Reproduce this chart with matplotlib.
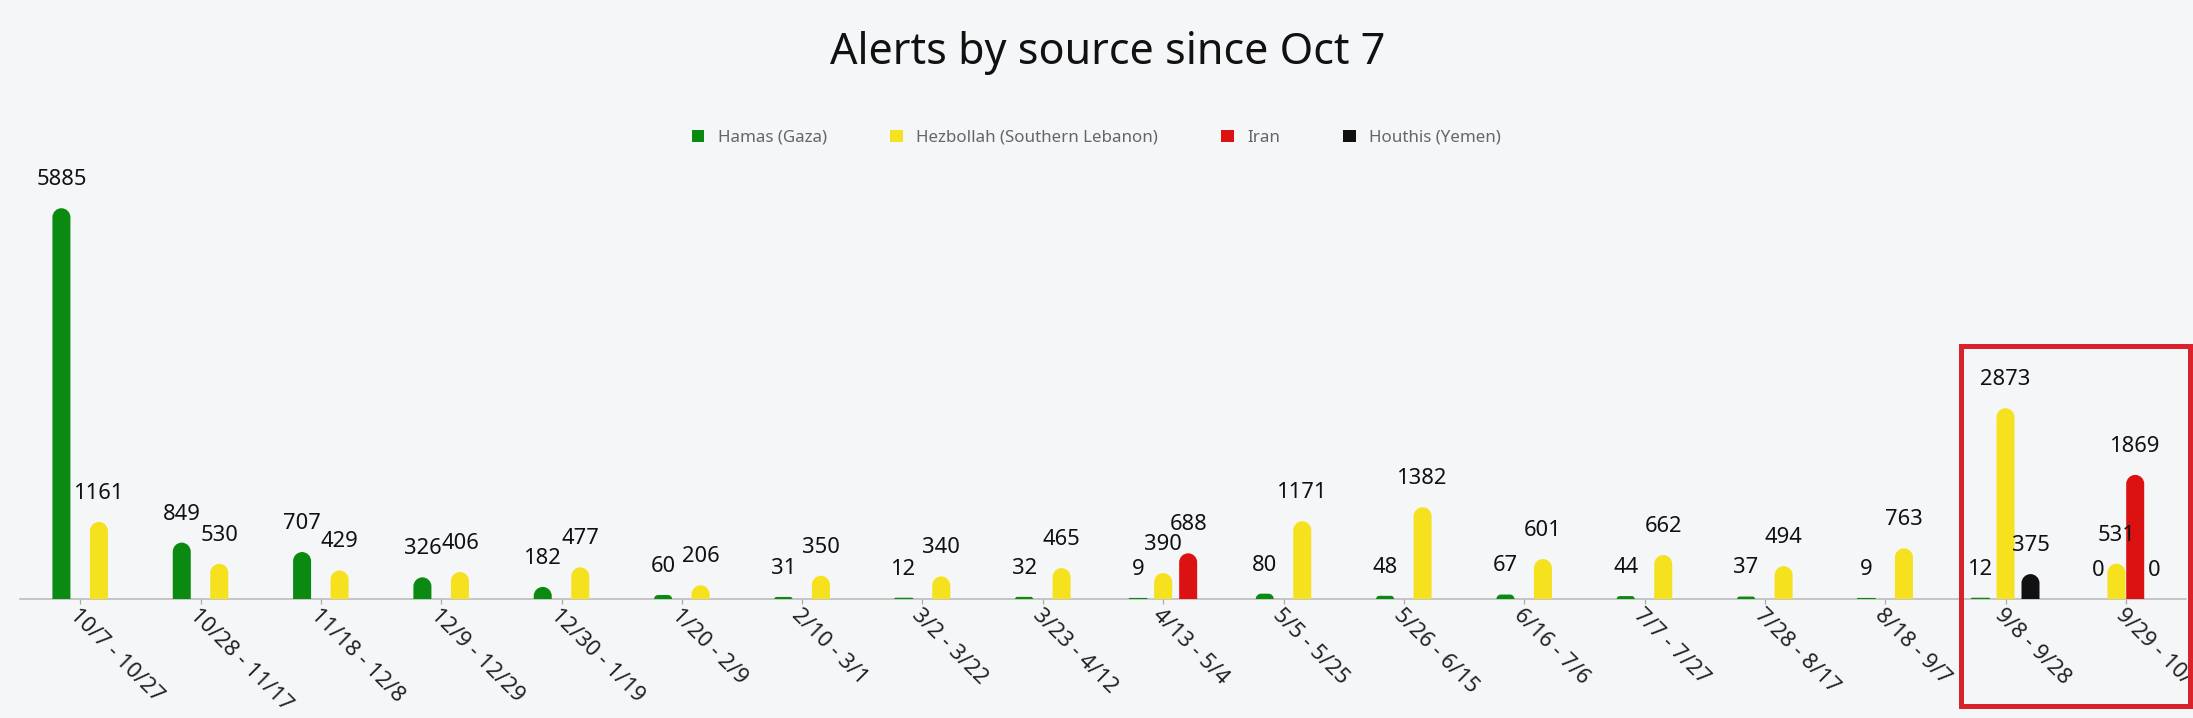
import numpy as np
import matplotlib
matplotlib.use("Agg")
import matplotlib.pyplot as plt
from matplotlib.path import Path
from matplotlib.patches import PathPatch, Patch, Rectangle

plt.rcParams['font.family'] = ['Noto Sans', 'DejaVu Sans']

# ---------------- data ----------------
categories = ["10/7 - 10/27", "10/28 - 11/17", "11/18 - 12/8", "12/9 - 12/29",
              "12/30 - 1/19", "1/20 - 2/9", "2/10 - 3/1", "3/2 - 3/22",
              "3/23 - 4/12", "4/13 - 5/4", "5/5 - 5/25", "5/26 - 6/15",
              "6/16 - 7/6", "7/7 - 7/27", "7/28 - 8/17", "8/18 - 9/7",
              "9/8 - 9/28", "9/29 - 10/19"]
hamas = [5885, 849, 707, 326, 182, 60, 31, 12, 32, 9, 80, 48, 67, 44, 37, 9, 12, 0]
hezbollah = [1161, 530, 429, 406, 477, 206, 350, 340, 465, 390, 1171, 1382, 601,
             662, 494, 763, 2873, 531]
iran = [None, None, None, None, None, None, None, None, None, 688, None, None,
        None, None, None, None, None, 1869]
houthis = [None, None, None, None, None, None, None, None, None, None, None, None,
           None, None, None, None, 375, 0]
series_names = ["Hamas (Gaza)", "Hezbollah (Southern Lebanon)", "Iran", "Houthis (Yemen)"]
title = "Alerts by source since Oct 7"

# ---------------- style ----------------
colors = ["#0b8a12", "#f6e11f", "#dc1111", "#111111"]
bg = "#f5f6f8"
W, H, DPI = 2193, 718, 100

fig = plt.figure(figsize=(W / DPI, H / DPI), dpi=DPI, facecolor=bg)
ax_left, ax_w = 20, 2166
base_y, ax_h = 599, 398.4
ax = fig.add_axes([ax_left / W, (H - base_y) / H, ax_w / W, ax_h / H])
ax.set_facecolor(bg)
ymax = 6000
ax.set_xlim(-0.5, len(categories) - 0.5)
ax.set_ylim(0, ymax)

px_x = ax_w / len(categories)
px_y = ax_h / ymax
group_w = 75 / px_x
bar_w = 18 / px_x

series = [hamas, hezbollah, iran, houthis]

k = 0.5523


def rounded_path(x0, w, h):
    r_px = min(9.0, h * px_y)
    if r_px <= 0:
        return None
    rx = r_px / px_x
    ry = r_px / px_y
    x1 = x0 + w
    verts = [(x0, 0), (x0, h - ry), (x0, h - ry + k * ry), (x0 + rx - k * rx, h),
             (x0 + rx, h), (x1 - rx, h), (x1 - rx + k * rx, h), (x1, h - ry + k * ry),
             (x1, h - ry), (x1, 0), (x0, 0)]
    codes = [Path.MOVETO, Path.LINETO, Path.CURVE4, Path.CURVE4, Path.CURVE4,
             Path.LINETO, Path.CURVE4, Path.CURVE4, Path.CURVE4, Path.LINETO,
             Path.CLOSEPOLY]
    return Path(verts, codes)


for s_idx, vals in enumerate(series):
    xs, hs = [], []
    for i in range(len(categories)):
        if vals[i] is None:
            continue
        present = [j for j in range(len(series)) if series[j][i] is not None]
        n = len(present)
        slot = group_w / n
        pos = present.index(s_idx)
        xs.append(i + (pos - (n - 1) / 2) * slot)
        hs.append(vals[i])
    bars = ax.bar(xs, hs, width=bar_w, color=colors[s_idx])
    for rect, v, x in zip(bars, hs, xs):
        p = rounded_path(rect.get_x(), rect.get_width(), rect.get_height())
        rect.set_visible(False)
        if p is not None:
            tiny = v * px_y < 2
            ax.add_patch(PathPatch(p, facecolor=colors[s_idx],
                                   edgecolor=colors[s_idx] if tiny else 'none',
                                   linewidth=0.7 if tiny else 0, zorder=2))
        ax.annotate(str(v), xy=(x, v), xytext=(0, 16.6), textcoords='offset points',
                    ha='center', va='baseline', fontsize=15.8, color='#111111',
                    annotation_clip=False)

for sp in ['left', 'right', 'top']:
    ax.spines[sp].set_visible(False)
ax.spines['bottom'].set_color('#bdbdbd')
ax.spines['bottom'].set_linewidth(1.2)
ax.spines['bottom'].set_zorder(1)
ax.set_yticks([])
ax.set_xticks(range(len(categories)))
ax.set_xticklabels(categories, rotation=-45, ha='left', va='top',
                   rotation_mode='anchor', fontsize=15.8, color='#222222')
ax.tick_params(axis='x', length=3.6, width=0.9, color='#aaaaaa', pad=0.7)

fig.text(1108 / W, 1 - 64 / H, title, ha='center', va='baseline', fontsize=31,
         color='#111111')

handles = [Patch(facecolor=c, edgecolor='none') for c in colors]
fig.legend(handles=handles, labels=series_names, loc='center',
           bbox_to_anchor=(0.5, 1 - 137.5 / H), ncol=4, frameon=False,
           fontsize=12.2, handlelength=0.72, handleheight=0.72,
           handletextpad=0.79, columnspacing=3.75, labelcolor='#666666')

fig.add_artist(Rectangle((1961 / W, (H - 705.5) / H), 228.5 / W, 360 / H,
                         transform=fig.transFigure, fill=False,
                         edgecolor='#d9222b', linewidth=3.6))

fig.savefig("out.png", dpi=DPI, facecolor=bg)
